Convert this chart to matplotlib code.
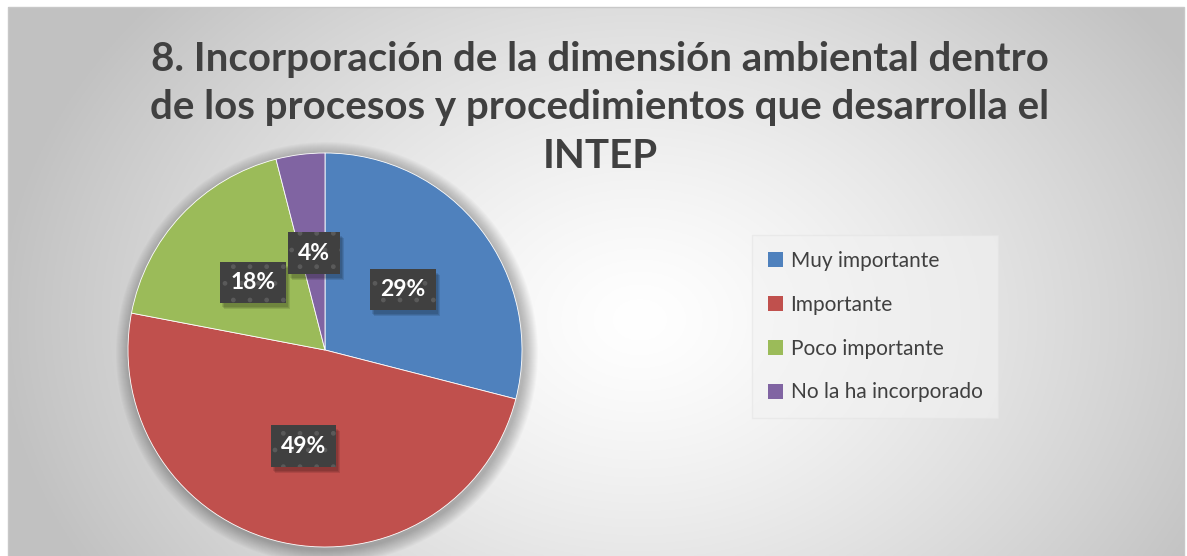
import numpy as np
import matplotlib
matplotlib.use("Agg")
import matplotlib.pyplot as plt
from matplotlib.patches import Circle, Rectangle

# ---- data ----
title = "8. Incorporación de la dimensión ambiental dentro\nde los procesos y procedimientos que desarrolla el\nINTEP"
categories = ["Muy importante", "Importante", "Poco importante", "No la ha incorporado"]
values = [29, 49, 18, 4]
colors = ["#4F81BD", "#C0504D", "#9BBB59", "#8064A2"]

W, H = 1187, 556
plt.rcParams['font.family'] = ['Lato', 'DejaVu Sans']
fig = plt.figure(figsize=(W / 100, H / 100), dpi=100)
fig.patch.set_facecolor("white")
ax = fig.add_axes([0, 0, 1, 1])
ax.set_xlim(0, W)
ax.set_ylim(0, H)
ax.set_aspect("equal")
ax.axis("off")

# background radial gradient inside chart frame
x0, x1, y0, y1 = 8, 1184, 0, H - 7
xx, yy = np.meshgrid(np.linspace(x0, x1, 600), np.linspace(y0, y1, 300))
cx, cy = 640, H - 320
r = np.sqrt((xx - cx) ** 2 + ((yy - cy) * 1.3) ** 2) / 640
g = 1 - 0.24 * np.clip(r, 0, 1.2) ** 1.3
g = np.clip(g, 0.76, 1)
img = np.dstack([g, g, g])
ax.imshow(img, extent=[x0, x1, y0, y1], origin="lower", zorder=0, aspect="auto")
ax.add_patch(Rectangle((x0, y0 - 2), x1 - x0, y1 - y0 + 2, fill=False,
                       edgecolor="#c8c8c8", lw=1, zorder=1))

# pie
pcx, pcy, R = 325, H - 350, 197
for i in range(14):
    ax.add_patch(Circle((pcx + 2, pcy - 3), R + 14 - i, color="black",
                        alpha=0.018, lw=0, zorder=1.5))
wedges, texts, autotexts = ax.pie(values, colors=colors, startangle=90, counterclock=False,
                                  center=(pcx, pcy), radius=R, autopct="%.0f%%",
                                  pctdistance=0.5, frame=True,
                                  wedgeprops=dict(linewidth=0.6, edgecolor="white"),
                                  textprops=dict(color="white", fontsize=16.5, fontweight="bold"))
for w in wedges:
    w.set_zorder(2)
ax.set_xlim(0, W)
ax.set_ylim(0, H)
ax.axis("off")

# move the small label slightly left of the wedge centre, as in the reference
x4, y4 = autotexts[3].get_position()
autotexts[3].set_position((pcx - 0.055 * R, y4 - 1))

for t in autotexts:
    t.set_zorder(5)
    t.set_bbox(dict(boxstyle="square,pad=0.45", facecolor="#404040", edgecolor="#5a5a5a",
                    linewidth=0, hatch="."))

# shadows behind label boxes
fig.canvas.draw()
inv = ax.transData.inverted()
for t in autotexts:
    bb = t.get_bbox_patch().get_window_extent()
    (bx0, by0), (bx1, by1) = inv.transform([[bb.x0, bb.y0], [bb.x1, bb.y1]])
    for k in range(3):
        ax.add_patch(Rectangle((bx0 + 2 + k, by0 - 4 - k), bx1 - bx0, by1 - by0,
                               facecolor="black", alpha=0.1, lw=0, zorder=4))

# title
fig.text(600 / W, 1 - 108 / H, title, ha="center", va="center", fontsize=29,
         fontweight="bold", color="#404040", linespacing=1.38)

# legend
handles = [Rectangle((0, 0), 1, 1, facecolor=c) for c in colors]
leg = fig.legend(handles, categories, loc="upper left", bbox_to_anchor=(752 / W, 1 - 235 / H),
                 borderaxespad=0, frameon=True, fontsize=15, handlelength=0.75,
                 handleheight=0.75, handletextpad=0.35, labelspacing=1.15, borderpad=0.75,
                 fancybox=False, labelcolor="#404040")
leg.get_frame().set_facecolor("#f2f2f2")
leg.get_frame().set_edgecolor("#e4e4e4")
leg.get_frame().set_alpha(0.6)

fig.savefig("out.png", dpi=100)
